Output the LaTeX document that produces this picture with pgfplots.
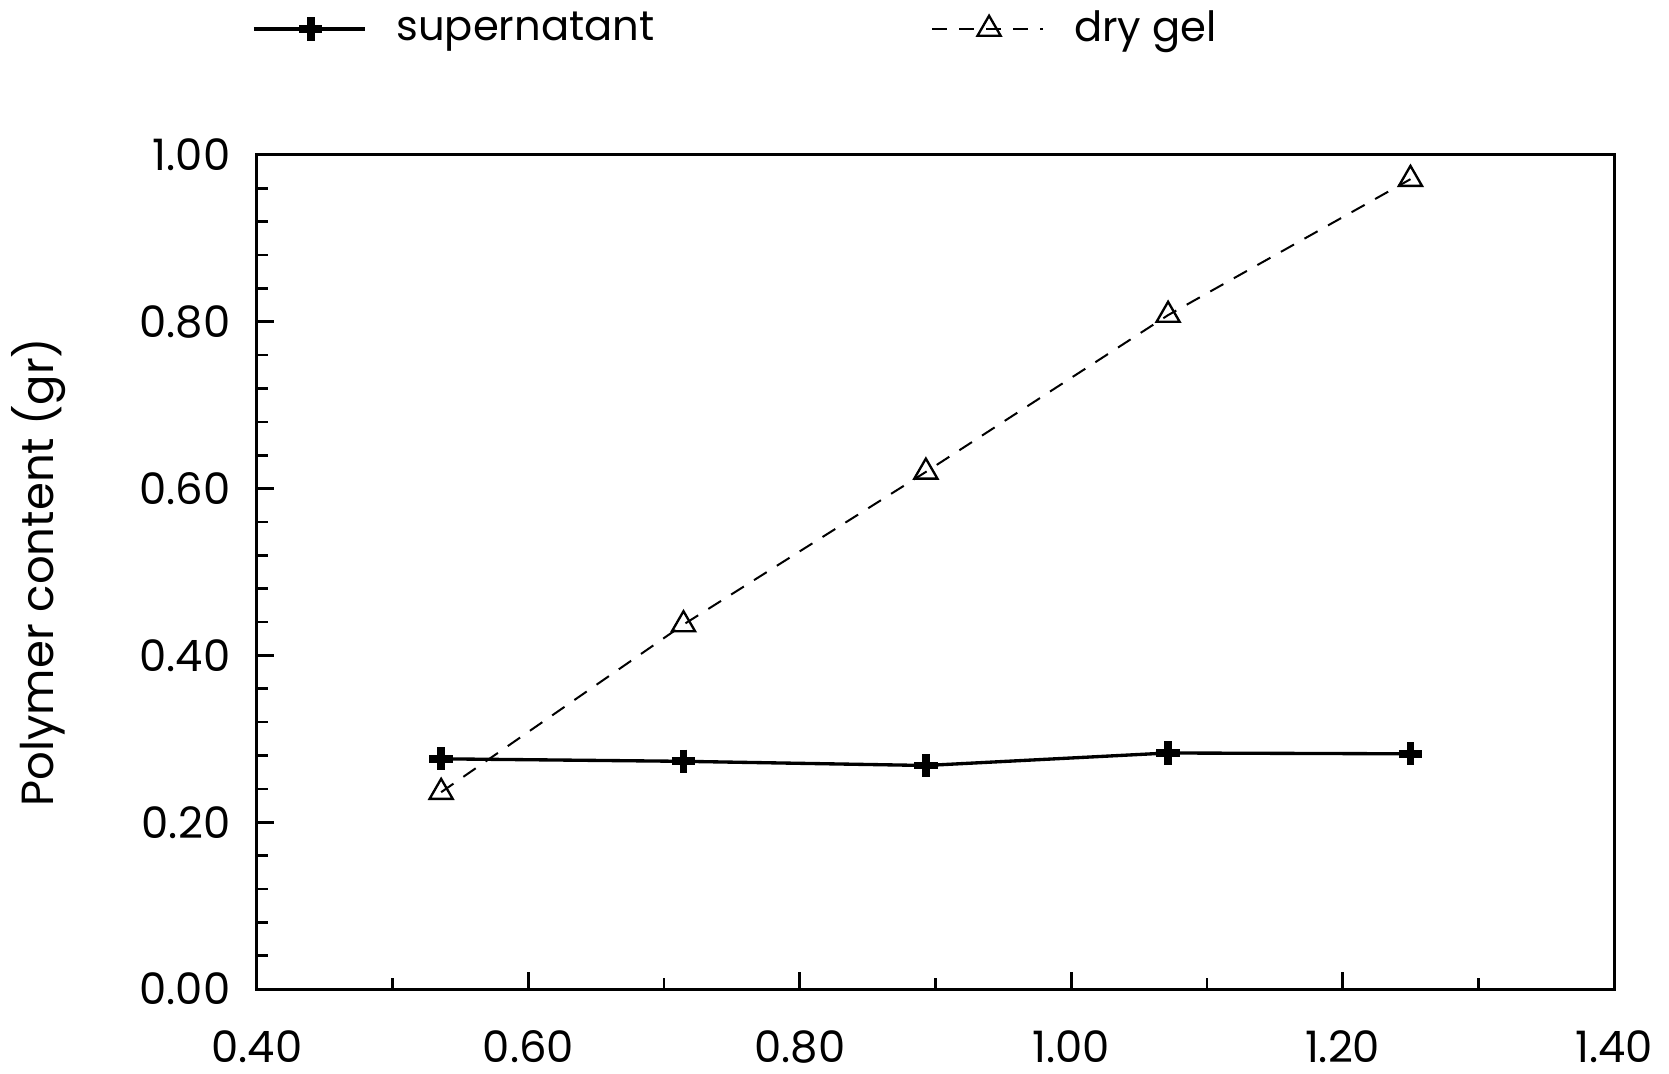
\documentclass[border=0pt]{standalone}
\usepackage{fontspec}
\setmainfont{Poppins}
\usepackage{pgfplots}
\pgfplotsset{compat=1.18}
\begin{document}
\begin{tikzpicture}
\path[use as bounding box] (0,0) rectangle (500.7pt,321.9pt);
\begin{axis}[
  scale only axis,
  anchor=south west, at={(77.1pt,25.2pt)},
  width=407.1pt, height=250.2pt,
  xmin=0.4, xmax=1.4, ymin=0, ymax=1,
  xtick={0.4,0.6,...,1.41}, minor xtick={0.5,0.7,...,1.31},
  ytick={0,0.2,...,1.01}, minor ytick={0.04,0.08,...,0.97},
  tick align=inside,
  xtick pos=bottom, ytick pos=left,
  major tick length=5pt, minor tick length=3.2pt,
  every tick/.style={black, line width=0.8pt},
  axis line style={line width=0.9pt},
  font=\fontsize{13}{15}\selectfont,
  /pgf/number format/assume math mode=true,
  /pgf/number format/fixed,
  /pgf/number format/fixed zerofill,
  /pgf/number format/precision=2,
  xticklabel style={yshift=-9pt},
  yticklabel style={xshift=-4.5pt},
  ylabel={Polymer content (gr)},
  ylabel style={at={(axis description cs:-0.161,0.5)}, anchor=center, font=\fontsize{13.5}{15}\selectfont},
  legend columns=2,
  legend style={at={(rel axis cs:-0.004,1.151)}, anchor=west, draw=none, fill=none,
    inner sep=0pt, font=\fontsize{12.5}{14}\selectfont,
    /tikz/every odd column/.append style={column sep=7pt},
    /tikz/every even column/.append style={column sep=81pt}},
  legend image code/.code={\draw[mark repeat=2, mark phase=2, #1] plot coordinates {(0cm,0cm) (0.6cm,0cm) (1.17cm,0cm)};},
]
\addplot[black, line width=1pt, mark=+, mark size=3.5pt, mark options={line width=2.3pt, solid}]
  coordinates {(0.5357,0.276) (0.7143,0.273) (0.8929,0.268) (1.0714,0.283) (1.25,0.282)};
\addlegendentry{supernatant}
\addplot[black, line width=0.6pt, dash pattern=on 4.5pt off 3.6pt, mark=triangle, mark size=4pt, mark options={solid, line width=0.7pt}]
  coordinates {(0.5357,0.236) (0.7143,0.437) (0.8929,0.620) (1.0714,0.808) (1.25,0.971)};
\addlegendentry{dry gel}
\end{axis}
\end{tikzpicture}
\end{document}
